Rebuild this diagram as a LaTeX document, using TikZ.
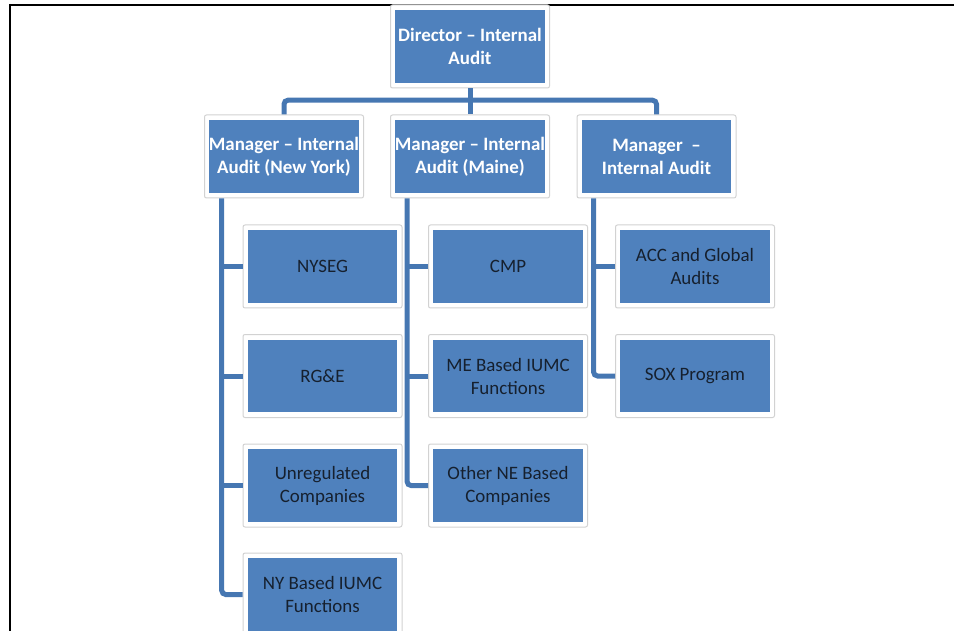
\documentclass[tikz,border=0pt]{standalone}
\usepackage{fontspec}
\setmainfont{Carlito}
\usetikzlibrary{calc}
\definecolor{boxblue}{HTML}{4F81BD}
\definecolor{linkblue}{HTML}{4677B2}
\definecolor{rimgray}{HTML}{D2D2D2}
\definecolor{inktext}{HTML}{16202E}
\begin{document}
\begin{tikzpicture}[x=0.75pt,y=-0.75pt,
  card/.style={draw=rimgray, line width=0.75pt, fill=white, rounded corners=1.5pt,
    minimum width=119.25pt, minimum height=62.25pt, inner sep=0pt, align=center,
    path picture={\fill[boxblue, sharp corners]
      ([shift={(3.6pt,3.9pt)}]path picture bounding box.south west) rectangle
      ([shift={(-3.6pt,-3.9pt)}]path picture bounding box.north east);}},
  head/.style={card, text=white, font=\fontsize{14.2}{17.25}\selectfont\bfseries},
  unit/.style={card, text=inktext, font=\fontsize{14.2}{17.25}\selectfont},
  link/.style={draw=linkblue, line width=3.75pt, rounded corners=3pt},
  frame/.style={line width=1.5pt, black}]
  \useasboundingbox (0,0) rectangle (954,631);

  % page frame
  \draw[frame] (9,5) -- (954,5);
  \draw[frame] (10,4) -- (10,631);

  % director and managers
  \node[head] (dir) at (470,46.5) {Director -- Internal\\Audit};
  \node[head] (mny) at (284,156.5) {Manager -- Internal\\Audit (New York)};
  \node[head] (mme) at (470,156.5) {Manager -- Internal\\Audit (Maine)};
  \node[head] (mxx) at (656.5,156.5) {Manager\ \ --\\Internal Audit};

  % New York units
  \node[unit] (nya) at (322.5,266.5) {NYSEG};
  \node[unit] (nyb) at (322.5,376) {RG\&E};
  \node[unit] (nyc) at (322.5,485.5) {Unregulated\\Companies};
  \node[unit] (nyd) at (322.5,594.5) {NY Based IUMC\\Functions};

  % Maine units
  \node[unit] (mea) at (508,266.5) {CMP};
  \node[unit] (meb) at (508,376) {ME Based IUMC\\Functions};
  \node[unit] (mec) at (508,485.5) {Other NE Based\\Companies};

  % other units
  \node[unit] (xxa) at (695,266.5) {ACC and Global\\Audits};
  \node[unit] (xxb) at (695,376) {SOX Program};

  % top level connectors
  \coordinate (bus) at ($(dir.south)!0.45!(mme.north)$);
  \draw[link] (mny.north) |- (bus) -| (mxx.north);
  \draw[link] (dir.south) -- (mme.north);

  % trunks under each manager
  \coordinate (tny) at ([xshift=13.3pt]mny.south west);
  \coordinate (tme) at ([xshift=12.8pt]mme.south west);
  \coordinate (txx) at ([xshift=12.8pt]mxx.south west);

  \draw[link] (tny) |- (nyd.west);
  \draw[link] (nya.west) -- (nya.west -| tny);
  \draw[link] (nyb.west) -- (nyb.west -| tny);
  \draw[link] (nyc.west) -- (nyc.west -| tny);

  \draw[link] (tme) |- (mec.west);
  \draw[link] (mea.west) -- (mea.west -| tme);
  \draw[link] (meb.west) -- (meb.west -| tme);

  \draw[link] (txx) |- (xxb.west);
  \draw[link] (xxa.west) -- (xxa.west -| txx);
\end{tikzpicture}
\end{document}
